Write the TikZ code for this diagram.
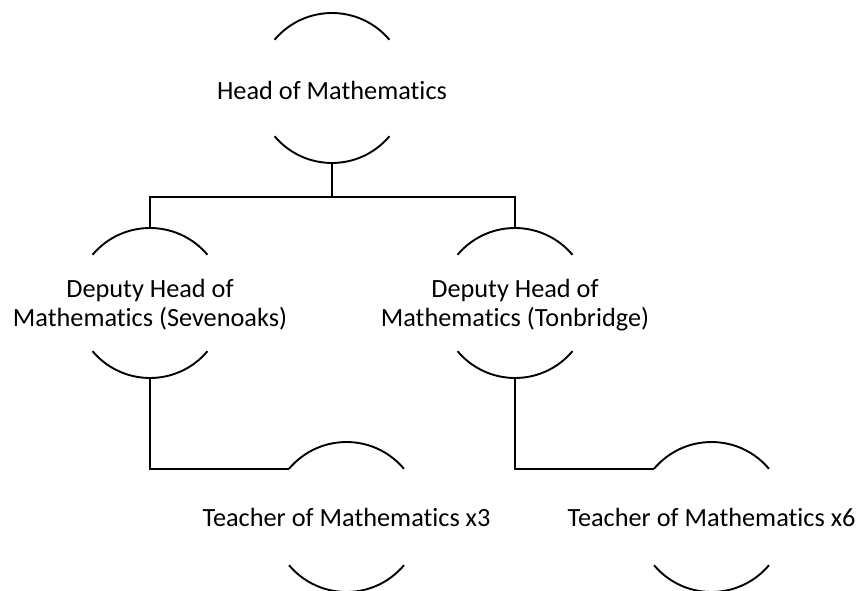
\documentclass[tikz,border=0pt]{standalone}
\usepackage{fontspec}
\setmainfont{Carlito}[Ligatures={CommonOff,ContextualOff}]
\begin{document}
\begin{tikzpicture}[x=1pt,y=1pt,
  role/.style={circle, minimum size=150pt, inner sep=0pt, outer sep=0pt,
    label={[font=\fontsize{26.3}{29}\selectfont, align=center, inner sep=0pt, yshift=-2pt]center:#1}},
  wire/.style={line width=1.9pt, black},
]
\useasboundingbox (0,0) rectangle (862,590);
\node[role={Head of Mathematics}] (head) at (332,502) {};
\node[role={Deputy Head of\\Mathematics (Sevenoaks)}] (dl) at (150,287) {};
\node[role={Deputy Head of\\Mathematics (Tonbridge)}] (dr) at (515,287) {};
\node[role={Teacher of Mathematics x3}] (tl) at (346.5,75) {};
\node[role={Teacher of Mathematics x6}] (tr) at (711.5,75) {};
\foreach \n in {head,dl,dr}{
  \draw[wire] (\n.40) arc (40:140:75pt);
  \draw[wire] (\n.-140) arc (-140:-40:75pt);
}
\foreach \n in {tl,tr}{
  \draw[wire] ([yshift=-2pt]\n.40) arc (40:140:75pt);
  \draw[wire] ([yshift=-2pt]\n.-140) arc (-140:-40:75pt);
}
\coordinate (bar) at (332,393);
\draw[wire] (head.south) -- (bar);
\draw[wire] (dl.north) |- (bar) -| (dr.north);
\draw[wire] (dl.south) |- ([yshift=-2pt]tl.140);
\draw[wire] (dr.south) |- ([yshift=-2pt]tr.140);
\end{tikzpicture}
\end{document}
